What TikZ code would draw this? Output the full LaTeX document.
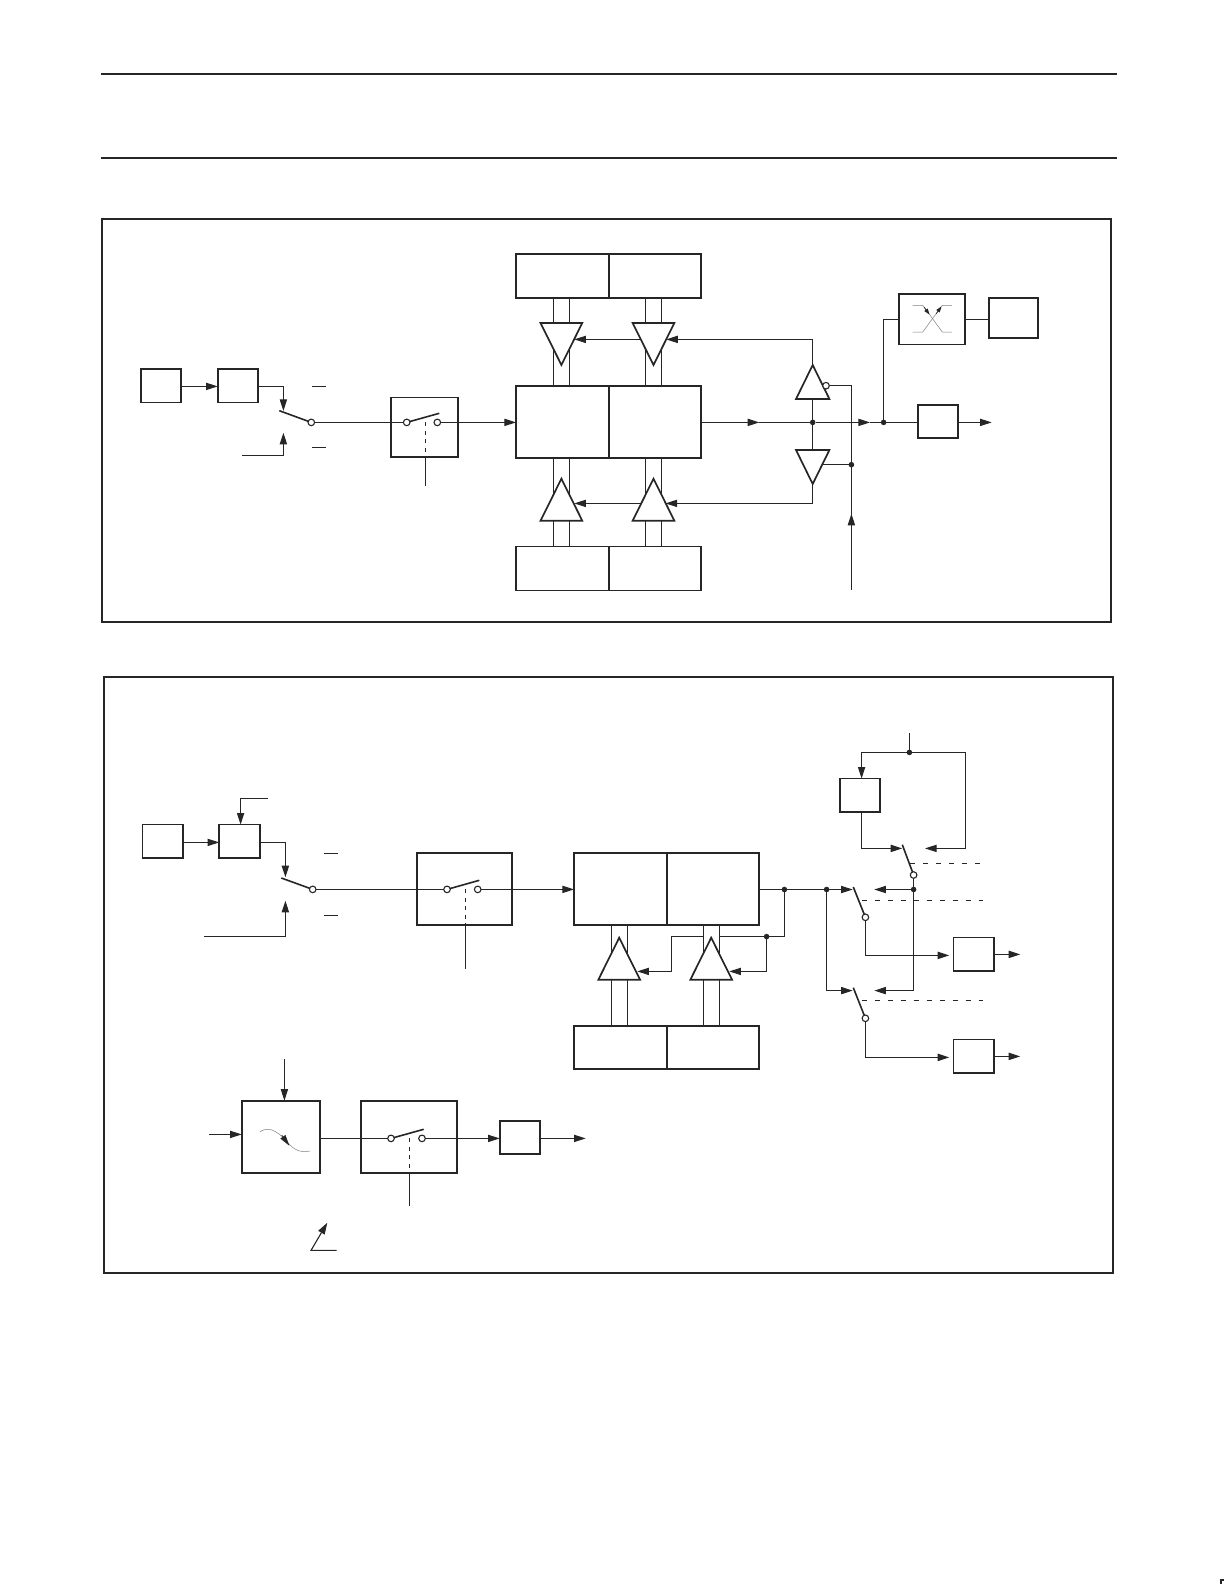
\documentclass[tikz,border=0pt]{standalone}
\usetikzlibrary{positioning, arrows.meta, shapes.geometric, calc, backgrounds}

\begin{document}
\begin{tikzpicture}[
    x=0.5pt, y=-0.5pt,
    wire/.style={line width=.55pt, draw=black!85},
    arrow/.style={wire, -{Triangle[length=5.8pt,width=3.6pt]}},
    arm/.style={line width=.8pt, draw=black!85},
    rule/.style={line width=.9pt, draw=black!85},
    dashwire/.style={wire, dash pattern=on 2.5pt off 4pt},
    tapwire/.style={wire, dash pattern=on 2pt off 2.2pt},
    thinwire/.style={line width=.25pt, draw=black!50},
    thintip/.style={line width=.3pt, draw=black!85, fill=black!85},
    frame/.style={rectangle, draw=black!85, line width=.85pt, inner sep=0pt, outer sep=0pt},
    smallbox/.style={frame, minimum width=20.3pt, minimum height=16.7pt},
    memcell/.style={frame, minimum width=46.3pt, minimum height=22pt},
    memtall/.style={frame, minimum width=46.3pt, minimum height=36.1pt},
    switchbox/.style={frame, minimum height=36.1pt},
    buffer/.style={isosceles triangle, isosceles triangle stretches, draw=black!85, fill=white, line width=.85pt,
      inner sep=0pt, outer sep=0pt, minimum width=20.85pt, minimum height=21pt, anchor=apex},
    bufdown/.style={buffer, shape border rotate=-90},
    bufup/.style={buffer, shape border rotate=90},
    invsize/.style={minimum width=16.7pt, minimum height=17pt},
    ring/.style={circle, draw=black!85, fill=white, line width=.55pt, inner sep=0pt, outer sep=0pt, minimum size=3.3pt},
    dot/.style={circle, fill=black!85, inner sep=0pt, outer sep=0pt, minimum size=2.8pt}]

  \useasboundingbox (0,0) rectangle (1224,1584);

  \coordinate (rulea) at (101,74);
  \coordinate (ruleb) at (1117,74);
  \coordinate (rulec) at (101,158);
  \coordinate (ruled) at (1117,158);
  \coordinate (marka) at (1224,1580);
  \coordinate (markb) at (1221,1580);
  \coordinate (markc) at (1221,1584);
  \draw[rule] (rulea) -- (ruleb);
  \draw[rule] (rulec) -- (ruled);
  \draw[rule] (marka) -- (markb) -- (markc);

  \node[frame, minimum width=504.5pt, minimum height=201.2pt] (frameone) at (606.5,420.5) {};
  \node[frame, minimum width=504.4pt, minimum height=297.9pt] (frametwo) at (608.4,974.9) {};

  \node[smallbox] (osca) at (161,385.8) {};
  \node[smallbox] (diva) at (238,385.8) {};
  \node[ring] (swa) at (311.3,422.4) {};
  \node[frame, minimum width=33.8pt, minimum height=29.85pt] (gatea) at (424.5,427.2) {};
  \node[ring] (gatea in) at (406.7,422.4) {};
  \node[ring] (gatea out) at (437.3,422.4) {};

  \node[memcell] (memtopa) at (562.3,275.8) {};
  \node[memcell] (memtopb) at (655,275.8) {};
  \node[memtall] (memmida) at (562.3,422) {};
  \node[memtall] (memmidb) at (655,422) {};
  \node[memcell] (membota) at (562.3,568.6) {};
  \node[memcell] (membotb) at (655,568.6) {};

  \node[bufdown] (bufa) at (561.4,365) {};
  \node[bufdown] (bufb) at (653.5,365) {};
  \node[bufup] (bufc) at (561.4,478.7) {};
  \node[bufup] (bufd) at (653.5,478.7) {};

  \node[bufup, invsize] (invup) at (812.7,365) {};
  \node[bufdown, invsize] (invdn) at (812.7,484) {};
  \node[ring] (invbub) at (826,385.7) {};
  \node[dot] (joina) at (812.7,422.4) {};
  \node[dot] (joinb) at (851.4,464.7) {};
  \node[dot] (joinc) at (883.6,422.4) {};

  \node[smallbox] (outa) at (938,421.4) {};
  \node[frame, minimum width=33.3pt, minimum height=25.1pt] (filt) at (932,319.4) {};
  \node[frame, minimum width=24.5pt, minimum height=20.15pt] (pina) at (1013.5,317.8) {};

  \coordinate (swatip) at (283.4,411);
  \coordinate (swatop) at (279.3,410.7);
  \coordinate (inb) at (242.3,455.4);
  \coordinate (swbtip) at (283.4,432.7);
  \coordinate (bara) at (312.3,386.4);
  \coordinate (barb) at (326,386.4);
  \coordinate (barc) at (312.3,447.4);
  \coordinate (bard) at (326,447.4);
  \coordinate (gatearm) at (439.3,413.3);
  \coordinate (gatetap) at (425.4,422.4);
  \coordinate (gateen) at (425.4,485.7);
  \coordinate (tipa) at (574.3,339.4);
  \coordinate (tipb) at (666.2,339.4);
  \coordinate (tipc) at (574.3,503.4);
  \coordinate (tipd) at (665.5,503.4);
  \coordinate (behb) at (653.3,339.4);
  \coordinate (behd) at (653.3,503.4);
  \coordinate (tipe) at (759.3,422.4);
  \coordinate (tipf) at (870,422.4);
  \coordinate (tipg) at (851.4,513.7);
  \coordinate (ena) at (851.4,590);
  \coordinate (outtip) at (991.7,422.4);

  \begin{scope}[on background layer]
    \foreach \x in {553.6,569.4,645.4,661.4} {
      \draw[wire] (\x,0 |- memtopa.south) -- (\x,0 |- memmida.north);
      \draw[wire] (\x,0 |- memmida.south) -- (\x,0 |- membota.north);
    }
    \draw[arrow] (osca.east |- bara) -- (diva.west |- bara);
    \draw[arrow] (diva.east |- bara) -| (swatip);
    \draw[arm] (swatop) -- (swa);
    \draw[arrow] (inb) -| (swbtip);
    \draw[wire] (bara) -- (barb);
    \draw[wire] (barc) -- (bard);
    \draw[wire] (swa) -- (gatea in);
    \draw[arm] (gatea in) -- (gatearm);
    \draw[tapwire] (gatetap) -- (gatetap |- gatea.south);
    \draw[wire] (gatetap |- gatea.south) -- (gateen);
    \draw[arrow] (gatea out) -- (memmida.west |- gatea out);
    \draw[arrow] (invup.apex) |- (tipb);
    \draw[arrow] (behb) -- (tipa);
    \draw[arrow] (invdn.apex) |- (tipd);
    \draw[arrow] (behd) -- (tipc);
    \draw[arrow] (memmidb.east |- tipe) -- (tipe);
    \draw[wire] (tipe) -- (joina);
    \draw[arrow] (joina) -- (tipf);
    \draw[wire] (tipf) -- (joinc);
    \draw[wire] (joinc) -- (outa.west |- joinc);
    \draw[arrow] (outa.east |- outtip) -- (outtip);
    \draw[wire] (invup.lower side) -- (joina);
    \draw[wire] (joina) -- (invdn.lower side);
    \draw[wire] (invbub) -| (ena);
    \draw[arrow] (ena) -- (tipg);
    \draw[wire] (joinb) -- (invdn.center |- joinb);
    \draw[wire] (joinc) |- (filt.west);
    \draw[wire] (filt.east) -- (pina.west |- filt.east);
  \end{scope}

  \draw[thinwire] (912.7,305.3) -- (922.7,305.3) -- (942.3,332) -- (952,332);
  \draw[thinwire] (912.7,332) -- (922.7,332) -- (942.3,305.3) -- (952,305.3);
  \draw[thintip, -{Triangle[length=3pt,width=2pt]}] (924,307) -- (929.5,314.6);
  \draw[thintip, -{Triangle[length=3pt,width=2pt]}] (936,314) -- (941.5,306.4);

  \node[smallbox] (oscb) at (162.7,841.3) {};
  \node[smallbox] (divb) at (239.5,841.3) {};
  \node[ring] (swb) at (312.7,889.4) {};
  \node[switchbox, minimum width=47.65pt] (gateb) at (464.3,889) {};
  \node[ring] (gateb in) at (447,889.4) {};
  \node[ring] (gateb out) at (477.7,889.4) {};

  \node[memtall] (memca) at (620.3,889) {};
  \node[memtall] (memcb) at (713,889) {};
  \node[memcell, minimum height=21.6pt] (memda) at (620.3,1047.4) {};
  \node[memcell, minimum height=21.6pt] (memdb) at (713,1047.4) {};
  \node[bufup] (bufe) at (619.2,937.7) {};
  \node[bufup] (buff) at (711.2,937.7) {};

  \node[dot] (joind) at (784.4,889.5) {};
  \node[dot] (joine) at (826.6,889.5) {};
  \node[dot] (joinf) at (766.6,936.6) {};
  \node[dot] (joing) at (909.4,752.4) {};
  \node[dot] (joinh) at (913.6,889.5) {};

  \node[smallbox] (divc) at (860,795.3) {};
  \node[smallbox] (outb) at (973.7,954.3) {};
  \node[smallbox] (outc) at (973.7,1056.3) {};
  \node[ring] (swc) at (913.6,875) {};
  \node[ring] (swd) at (865.4,917.3) {};
  \node[ring] (swe) at (865.4,1018.3) {};

  \node[switchbox, minimum width=39.15pt] (dac) at (280.85,1136.8) {};
  \node[switchbox, minimum width=48pt] (gatec) at (409.3,1136.8) {};
  \node[ring] (gatec in) at (391,1138.4) {};
  \node[ring] (gatec out) at (422,1138.4) {};
  \node[smallbox] (outd) at (520,1137.5) {};

  \coordinate (inc) at (267.7,798.4);
  \coordinate (ind) at (240.6,798.4);
  \coordinate (rowb) at (240.6,842.4);
  \coordinate (swbtipb) at (285.4,877.3);
  \coordinate (swbtop) at (281.3,878);
  \coordinate (ine) at (204,936.4);
  \coordinate (swbtipc) at (285.4,900.7);
  \coordinate (bare) at (324,853.4);
  \coordinate (barf) at (338,853.4);
  \coordinate (barg) at (324,915.4);
  \coordinate (barh) at (338,915.4);
  \coordinate (gatebarm) at (479.3,880.3);
  \coordinate (gatebtap) at (465.4,889.4);
  \coordinate (gateben) at (465.4,969.3);
  \coordinate (tipj) at (852.7,889.5);
  \coordinate (cornera) at (671.4,936.6);
  \coordinate (tipk) at (637.3,971.4);
  \coordinate (tipl) at (729.3,971.4);
  \coordinate (bra) at (703.6,936.6);
  \coordinate (brb) at (719.4,936.6);
  \coordinate (armdtop) at (853.3,887);
  \coordinate (tipm) at (852.7,990.6);
  \coordinate (armetop) at (853.3,987.7);
  \coordinate (tipn) at (949.3,955.4);
  \coordinate (tipo) at (949.3,1057.4);
  \coordinate (outbtip) at (1020.3,954.4);
  \coordinate (outctip) at (1020.3,1056.4);
  \coordinate (dasha) at (910,863.4);
  \coordinate (dashb) at (983.3,863.4);
  \coordinate (dashc) at (861.7,900.4);
  \coordinate (dashd) at (983.3,900.4);
  \coordinate (dashe) at (861.7,1000.4);
  \coordinate (dashf) at (983.3,1000.4);
  \coordinate (armctop) at (902.3,844.7);
  \coordinate (tipp) at (874.3,889.5);
  \coordinate (tipq) at (874.3,990.6);
  \coordinate (inf) at (909.4,733.3);
  \coordinate (corb) at (965.4,752.4);
  \coordinate (fedc) at (861.6,752.4);
  \coordinate (tipr) at (925,848.4);
  \coordinate (tips) at (902.3,848.4);
  \coordinate (ing) at (284.4,1059.3);
  \coordinate (inh) at (209.3,1134.4);
  \coordinate (gatecarm) at (423.7,1129.3);
  \coordinate (gatectap) at (409.4,1138.4);
  \coordinate (gatecen) at (409.4,1205.7);
  \coordinate (outdtip) at (585.7,1138.4);
  \coordinate (nota) at (336.7,1250.4);
  \coordinate (notb) at (311,1250.4);
  \coordinate (notc) at (327.3,1222.7);

  \begin{scope}[on background layer]
    \foreach \x in {611.6,627.4,703.6,719.4} {
      \draw[wire] (\x,0 |- memca.south) -- (\x,0 |- memda.north);
    }
    \draw[arrow] (oscb.east |- rowb) -- (divb.west |- rowb);
    \draw[arrow] (inc) -- (ind) -- (ind |- divb.north);
    \draw[arrow] (divb.east |- rowb) -| (swbtipb);
    \draw[arm] (swbtop) -- (swb);
    \draw[arrow] (ine) -| (swbtipc);
    \draw[wire] (bare) -- (barf);
    \draw[wire] (barg) -- (barh);
    \draw[wire] (swb) -- (gateb in);
    \draw[arm] (gateb in) -- (gatebarm);
    \draw[tapwire] (gatebtap) -- (gatebtap |- gateb.south);
    \draw[wire] (gatebtap |- gateb.south) -- (gateben);
    \draw[arrow] (gateb out) -- (memca.west |- gateb out);
    \draw[wire] (memcb.east |- joind) -- (joind);
    \draw[wire] (joind) -- (joine);
    \draw[arrow] (joine) -- (tipj);
    \draw[wire] (joind) |- (joinf);
    \draw[wire] (joinf) -- (brb);
    \draw[arrow] (bra) -- (cornera) |- (tipk);
    \draw[arrow] (joinf) |- (tipl);
    \draw[arm] (armdtop) -- (swd);
    \draw[arrow] (swd) |- (tipn);
    \draw[arrow] (outb.east |- outbtip) -- (outbtip);
    \draw[arrow] (joine) |- (tipm);
    \draw[arm] (armetop) -- (swe);
    \draw[arrow] (swe) |- (tipo);
    \draw[arrow] (outc.east |- outctip) -- (outctip);
    \draw[dashwire] (dasha) -- (dashb);
    \draw[dashwire] (dashc) -- (dashd);
    \draw[dashwire] (dashe) -- (dashf);
    \draw[arm] (armctop) -- (swc);
    \draw[wire] (swc) -- (joinh);
    \draw[arrow] (joinh) -- (tipp);
    \draw[arrow] (joinh) |- (tipq);
    \draw[wire] (inf) -- (joing);
    \draw[arrow] (joing) -- (fedc) -- (fedc |- divc.north);
    \draw[wire] (joing) -- (corb);
    \draw[arrow] (corb) |- (tipr);
    \draw[arrow] (fedc |- divc.south) |- (tips);
    \draw[arrow] (ing) -- (ing |- dac.north);
    \draw[arrow] (inh) -- (dac.west |- inh);
    \draw[wire] (dac.east |- gatec in) -- (gatec in);
    \draw[arm] (gatec in) -- (gatecarm);
    \draw[tapwire] (gatectap) -- (gatectap |- gatec.south);
    \draw[wire] (gatectap |- gatec.south) -- (gatecen);
    \draw[arrow] (gatec out) -- (outd.west |- gatec out);
    \draw[arrow] (outd.east |- outdtip) -- (outdtip);
    \draw[arrow] (nota) -- (notb) -- (notc);
  \end{scope}

  \draw[thinwire] (260,1131.7) .. controls (270,1125) and (280,1133) .. (290,1145) .. controls (296,1151) and (303,1153) .. (310,1151);
  \draw[thintip, -{Triangle[length=5.5pt,width=3pt]}] (281.7,1135) -- (289.3,1145.7);
\end{tikzpicture}
\end{document}
